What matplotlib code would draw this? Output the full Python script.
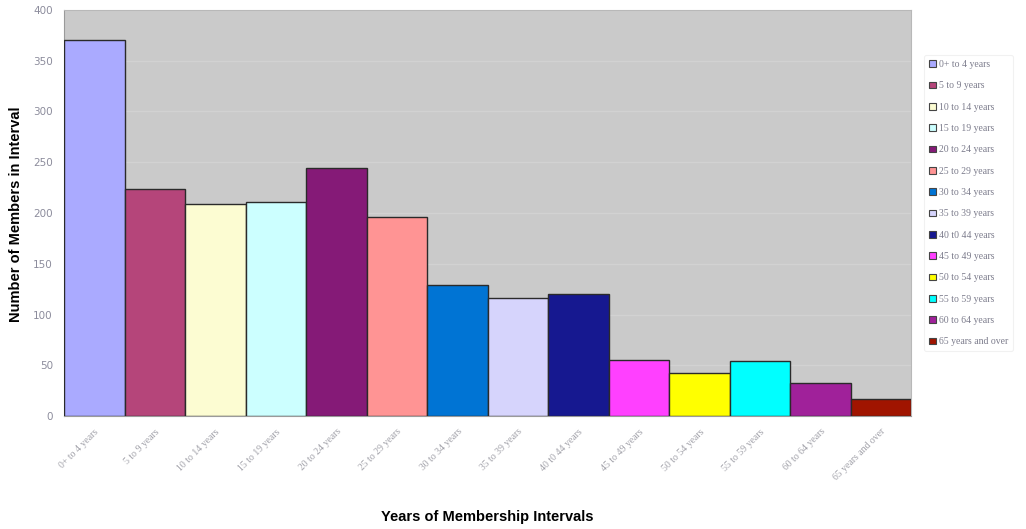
import matplotlib
matplotlib.use("Agg")
import matplotlib.pyplot as plt
from matplotlib.patches import Patch

# Membership intervals and counts
intervals = ["0+ to 4 years", "5 to 9 years", "10 to 14 years", "15 to 19 years",
             "20 to 24 years", "25 to 29 years", "30 to 34 years", "35 to 39 years",
             "40 t0 44 years", "45 to 49 years", "50 to 54 years", "55 to 59 years",
             "60 to 64 years", "65 years and over"]
members = [370, 224, 209, 211, 244, 196, 129, 116, 120, 55, 42, 54, 33, 17]
colors = ["#aaaaff", "#b5457a", "#fcfcd2", "#ccffff", "#851a77", "#ff9494", "#0074d4",
          "#d6d4fc", "#161890", "#ff40ff", "#ffff00", "#00ffff", "#a0219a", "#a01400"]
yticks = [0, 50, 100, 150, 200, 250, 300, 350, 400]

fig = plt.figure(figsize=(10.26, 5.29), dpi=100)
ax = fig.add_axes([0.0624, 0.2136, 0.8256, 0.7675])
ax.set_facecolor("#cacaca")

x = list(range(len(members)))
ax.bar(x, members, width=1.0, color=colors, edgecolor="#2a2a2a", linewidth=1.0, zorder=3)

ax.set_xlim(-0.5, len(members) - 0.5)
ax.set_ylim(0, 400)
ax.set_yticks(yticks)
ax.yaxis.grid(True, color="#d2d2d2", linewidth=1.0, zorder=0)
ax.tick_params(axis="y", length=0, labelsize=7.5, labelcolor="#8c8c9c", pad=8)
ax.tick_params(axis="x", length=0, pad=8)
ax.set_xticks(x)
ax.set_xticklabels(intervals, rotation=45, ha="right", rotation_mode="anchor",
                   fontsize=7, color="#a0a0a8", family="Liberation Serif")

for side in ["top", "right"]:
    ax.spines[side].set_color("#b8b8b8")
for side in ["left", "bottom"]:
    ax.spines[side].set_color("#9a9a9a")

# axis titles placed in figure coords so they stay inside the canvas
fig.text(0.016, 0.595, "Number of Members in Interval", rotation=90, ha="center", va="center",
         fontsize=10.5, fontweight="bold", family="Liberation Sans")
fig.text(0.475, 0.022, "Years of Membership Intervals", ha="center", va="center",
         fontsize=10.5, fontweight="bold", family="Liberation Sans")

handles = [Patch(facecolor=c, edgecolor="#444444", linewidth=0.8) for c in colors]
leg = fig.legend(handles, intervals, loc="upper left", bbox_to_anchor=(0.896, 0.905),
                 frameon=True, handlelength=0.7, handleheight=0.7,
                 handletextpad=0.3, labelspacing=1.27, borderpad=0.5,
                 prop={"family": "Liberation Serif", "size": 7})
leg.get_frame().set_edgecolor("#eeeeee")
leg.get_frame().set_linewidth(0.8)
for t in leg.get_texts():
    t.set_color("#7c7c8c")

fig.savefig("out.png", dpi=100)
